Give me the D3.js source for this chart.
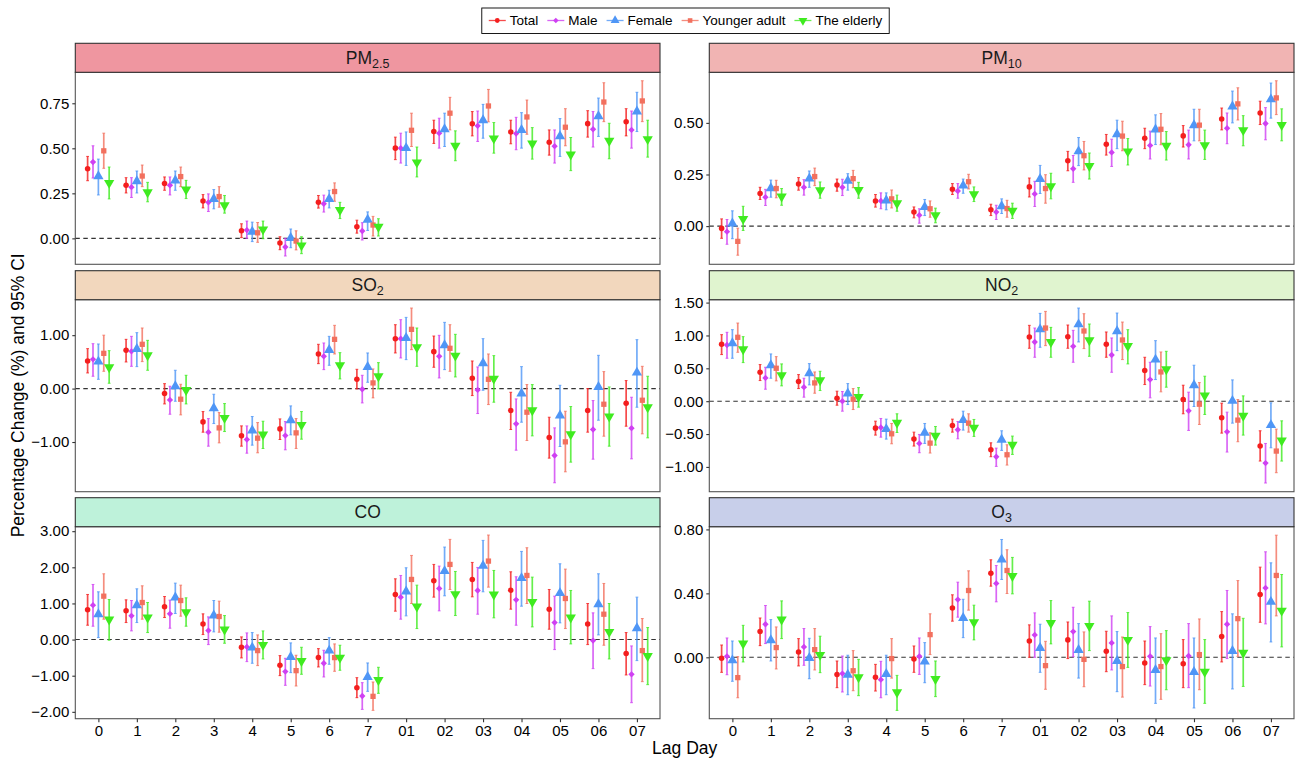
<!DOCTYPE html>
<html><head><meta charset="utf-8">
<script src="https://cdn.jsdelivr.net/npm/d3@7"></script>
<style>
html,body{margin:0;padding:0;background:#fff;}
svg{display:block;font-family:"Liberation Sans",Arial,Helvetica,sans-serif;}
</style></head>
<body>
<svg id="chart" width="1296" height="759"></svg>
<script>
// ---------------- DATA ----------------
const lags = ["0","1","2","3","4","5","6","7","01","02","03","04","05","06","07"];
const seriesNames = ["Total","Male","Female","Younger adult","The elderly"];
const seriesColors = ["#F41E1E","#CF40F2","#4F96F6","#F2705E","#3FEB1F"];

// each entry: [estimate, lower 95% CI, upper 95% CI]
const PM25_Total   = [[0.387,0.32,0.455],[0.295,0.252,0.337],[0.304,0.267,0.341],[0.208,0.169,0.243],[0.042,0.004,0.081],[-0.026,-0.063,0.009],[0.2,0.168,0.238],[0.064,0.029,0.101],[0.501,0.437,0.562],[0.593,0.527,0.656],[0.636,0.569,0.704],[0.591,0.525,0.656],[0.534,0.462,0.602],[0.637,0.562,0.709],[0.647,0.569,0.72]];
const PM25_Male    = [[0.424,0.335,0.514],[0.284,0.227,0.337],[0.295,0.241,0.341],[0.2,0.149,0.247],[0.046,0.0,0.096],[-0.048,-0.098,0.0],[0.192,0.146,0.24],[0.041,-0.009,0.087],[0.501,0.418,0.584],[0.584,0.501,0.667],[0.625,0.538,0.707],[0.582,0.492,0.672],[0.512,0.418,0.602],[0.606,0.507,0.704],[0.602,0.501,0.707]];
const PM25_Female  = [[0.345,0.241,0.44],[0.317,0.252,0.374],[0.321,0.267,0.374],[0.219,0.164,0.271],[0.037,-0.018,0.09],[0.002,-0.052,0.052],[0.219,0.169,0.267],[0.103,0.044,0.147],[0.501,0.405,0.591],[0.606,0.51,0.695],[0.656,0.556,0.744],[0.602,0.501,0.698],[0.567,0.455,0.665],[0.678,0.566,0.779],[0.704,0.593,0.811]];
const PM25_Younger = [[0.486,0.389,0.584],[0.346,0.287,0.407],[0.343,0.287,0.396],[0.232,0.173,0.287],[0.031,-0.022,0.088],[-0.015,-0.064,0.042],[0.26,0.206,0.308],[0.074,0.013,0.122],[0.6,0.51,0.695],[0.695,0.602,0.783],[0.735,0.647,0.827],[0.674,0.578,0.768],[0.617,0.514,0.72],[0.757,0.648,0.864],[0.763,0.648,0.875]];
const PM25_Elderly = [[0.308,0.219,0.396],[0.256,0.203,0.311],[0.271,0.221,0.322],[0.184,0.14,0.238],[0.05,-0.002,0.096],[-0.039,-0.085,0.009],[0.157,0.11,0.2],[0.064,0.013,0.109],[0.422,0.341,0.507],[0.514,0.431,0.597],[0.555,0.473,0.643],[0.527,0.44,0.615],[0.466,0.376,0.56],[0.542,0.442,0.639],[0.551,0.451,0.656]];

const PM10_Total   = [[-0.011,-0.059,0.035],[0.158,0.129,0.188],[0.204,0.174,0.235],[0.199,0.169,0.228],[0.122,0.092,0.153],[0.068,0.04,0.093],[0.178,0.153,0.206],[0.079,0.051,0.106],[0.19,0.141,0.233],[0.317,0.268,0.362],[0.397,0.344,0.444],[0.426,0.375,0.474],[0.437,0.383,0.487],[0.519,0.466,0.572],[0.548,0.492,0.605]];
const PM10_Male    = [[-0.027,-0.088,0.032],[0.14,0.1,0.178],[0.188,0.15,0.225],[0.188,0.148,0.227],[0.122,0.084,0.161],[0.053,0.014,0.084],[0.17,0.135,0.206],[0.068,0.032,0.101],[0.156,0.095,0.217],[0.278,0.212,0.342],[0.357,0.289,0.421],[0.391,0.325,0.46],[0.394,0.325,0.465],[0.474,0.399,0.548],[0.497,0.418,0.574]];
const PM10_Female  = [[0.013,-0.061,0.074],[0.183,0.14,0.223],[0.23,0.188,0.267],[0.219,0.174,0.254],[0.124,0.079,0.161],[0.092,0.051,0.129],[0.196,0.159,0.228],[0.096,0.061,0.132],[0.228,0.158,0.294],[0.362,0.293,0.429],[0.445,0.375,0.513],[0.468,0.395,0.539],[0.489,0.413,0.566],[0.579,0.5,0.654],[0.614,0.523,0.693]];
const PM10_Younger = [[-0.074,-0.141,-0.01],[0.182,0.137,0.222],[0.24,0.196,0.281],[0.23,0.186,0.27],[0.132,0.088,0.175],[0.084,0.043,0.122],[0.215,0.18,0.251],[0.085,0.043,0.125],[0.182,0.111,0.249],[0.341,0.272,0.41],[0.436,0.365,0.508],[0.469,0.394,0.545],[0.489,0.413,0.566],[0.592,0.514,0.67],[0.621,0.54,0.704]];
const PM10_Elderly = [[0.035,-0.021,0.096],[0.143,0.101,0.182],[0.174,0.135,0.214],[0.175,0.135,0.212],[0.111,0.072,0.15],[0.053,0.016,0.087],[0.154,0.119,0.19],[0.074,0.037,0.111],[0.193,0.132,0.256],[0.291,0.228,0.354],[0.362,0.296,0.424],[0.389,0.32,0.458],[0.392,0.323,0.465],[0.465,0.389,0.535],[0.49,0.413,0.568]];

const SO2_Total   = [[0.517,0.293,0.748],[0.717,0.498,0.922],[-0.093,-0.287,0.093],[-0.623,-0.816,-0.43],[-0.885,-1.078,-0.698],[-0.754,-0.953,-0.567],[0.648,0.467,0.829],[0.174,-0.006,0.361],[0.935,0.667,1.196],[0.692,0.399,0.984],[0.193,-0.131,0.517],[-0.411,-0.766,-0.069],[-0.916,-1.302,-0.536],[-0.411,-0.816,0.0],[-0.274,-0.704,0.15]];
const SO2_Male    = [[0.548,0.231,0.841],[0.698,0.417,0.978],[-0.212,-0.48,0.044],[-0.816,-1.078,-0.561],[-0.953,-1.209,-0.698],[-0.879,-1.146,-0.617],[0.604,0.355,0.854],[-0.012,-0.268,0.249],[0.935,0.573,1.29],[0.604,0.199,0.997],[-0.025,-0.467,0.405],[-0.66,-1.153,-0.193],[-1.252,-1.763,-0.735],[-0.766,-1.321,-0.224],[-0.741,-1.315,-0.162]];
const SO2_Female  = [[0.505,0.174,0.835],[0.741,0.411,1.047],[0.044,-0.237,0.343],[-0.368,-0.654,-0.106],[-0.785,-1.059,-0.523],[-0.592,-0.866,-0.324],[0.723,0.436,0.978],[0.405,0.118,0.667],[0.947,0.542,1.333],[0.81,0.355,1.24],[0.474,-0.031,0.935],[-0.093,-0.629,0.411],[-0.505,-1.084,0.062],[0.031,-0.592,0.623],[0.299,-0.349,0.916]];
const SO2_Younger = [[0.66,0.324,1.0],[0.829,0.505,1.134],[-0.199,-0.492,0.081],[-0.735,-1.016,-0.449],[-0.928,-1.202,-0.636],[-0.829,-1.121,-0.561],[0.922,0.648,1.184],[0.106,-0.174,0.368],[1.109,0.729,1.508],[0.754,0.324,1.196],[0.174,-0.299,0.648],[-0.442,-0.972,0.075],[-0.997,-1.558,-0.424],[-0.293,-0.891,0.318],[-0.218,-0.847,0.417]];
const SO2_Elderly = [[0.399,0.1,0.71],[0.623,0.343,0.903],[-0.025,-0.287,0.249],[-0.548,-0.804,-0.28],[-0.86,-1.121,-0.611],[-0.679,-0.947,-0.43],[0.436,0.181,0.673],[0.231,-0.006,0.486],[0.773,0.417,1.134],[0.617,0.218,1.016],[0.187,-0.255,0.617],[-0.405,-0.885,0.075],[-0.854,-1.377,-0.336],[-0.523,-1.078,0.031],[-0.349,-0.922,0.231]];

const NO2_Total   = [[0.865,0.709,1.012],[0.44,0.314,0.557],[0.299,0.192,0.405],[0.046,-0.061,0.152],[-0.41,-0.516,-0.304],[-0.577,-0.683,-0.471],[-0.369,-0.471,-0.273],[-0.739,-0.845,-0.633],[0.977,0.805,1.154],[0.982,0.805,1.159],[0.865,0.668,1.053],[0.466,0.253,0.668],[0.025,-0.192,0.243],[-0.253,-0.486,-0.03],[-0.683,-0.911,-0.45]];
const NO2_Male    = [[0.855,0.653,1.048],[0.354,0.182,0.516],[0.213,0.061,0.349],[0.0,-0.152,0.147],[-0.4,-0.547,-0.263],[-0.643,-0.784,-0.506],[-0.435,-0.572,-0.309],[-0.845,-0.992,-0.714],[0.901,0.668,1.113],[0.835,0.592,1.078],[0.703,0.44,0.962],[0.329,0.051,0.592],[-0.147,-0.445,0.137],[-0.466,-0.774,-0.167],[-0.941,-1.245,-0.643]];
const NO2_Female  = [[0.881,0.653,1.088],[0.547,0.349,0.719],[0.425,0.248,0.572],[0.116,-0.051,0.268],[-0.425,-0.577,-0.273],[-0.481,-0.643,-0.339],[-0.288,-0.44,-0.152],[-0.587,-0.749,-0.45],[1.093,0.82,1.336],[1.169,0.901,1.417],[1.063,0.769,1.341],[0.633,0.329,0.921],[0.243,-0.081,0.547],[0.005,-0.334,0.324],[-0.364,-0.709,-0.025]];
const NO2_Younger = [[0.972,0.744,1.189],[0.501,0.309,0.678],[0.278,0.121,0.445],[0.03,-0.127,0.192],[-0.496,-0.648,-0.339],[-0.638,-0.789,-0.481],[-0.334,-0.471,-0.192],[-0.815,-0.972,-0.663],[1.113,0.845,1.366],[1.068,0.8,1.331],[0.931,0.633,1.204],[0.445,0.142,0.749],[-0.046,-0.354,0.283],[-0.288,-0.617,0.025],[-0.759,-1.088,-0.425]];
const NO2_Elderly = [[0.789,0.587,0.982],[0.395,0.233,0.567],[0.319,0.162,0.455],[0.066,-0.091,0.207],[-0.329,-0.476,-0.192],[-0.526,-0.668,-0.385],[-0.405,-0.536,-0.278],[-0.663,-0.81,-0.531],[0.901,0.668,1.123],[0.926,0.683,1.174],[0.84,0.567,1.088],[0.486,0.213,0.759],[0.086,-0.202,0.38],[-0.223,-0.516,0.081],[-0.597,-0.911,-0.299]];

const CO_Total   = [[0.823,0.397,1.248],[0.795,0.471,1.1],[0.906,0.61,1.192],[0.434,0.139,0.712],[-0.213,-0.508,0.074],[-0.712,-0.998,-0.444],[-0.499,-0.758,-0.25],[-1.331,-1.608,-1.054],[1.248,0.786,1.682],[1.627,1.174,2.08],[1.664,1.183,2.135],[1.368,0.841,1.876],[0.841,0.287,1.386],[0.434,-0.139,0.998],[-0.388,-0.98,0.194]];
const CO_Male    = [[0.952,0.37,1.525],[0.656,0.24,1.081],[0.712,0.314,1.091],[0.25,-0.139,0.628],[-0.203,-0.61,0.185],[-0.887,-1.266,-0.518],[-0.656,-1.035,-0.296],[-1.562,-1.932,-1.192],[1.174,0.564,1.774],[1.414,0.795,2.033],[1.359,0.702,1.996],[1.1,0.397,1.738],[0.471,-0.277,1.201],[-0.028,-0.804,0.739],[-0.961,-1.747,-0.176]];
const CO_Female  = [[0.702,0.055,1.322],[0.952,0.471,1.405],[1.165,0.721,1.562],[0.665,0.213,1.081],[-0.222,-0.656,0.194],[-0.481,-0.915,-0.092],[-0.305,-0.684,0.055],[-1.035,-1.433,-0.647],[1.331,0.656,1.987],[1.895,1.211,2.56],[2.043,1.322,2.745],[1.701,0.924,2.44],[1.285,0.462,2.098],[0.98,0.129,1.821],[0.314,-0.582,1.174]];
const CO_Younger = [[1.201,0.564,1.821],[1.026,0.564,1.488],[1.081,0.647,1.506],[0.638,0.203,1.063],[-0.305,-0.721,0.129],[-0.86,-1.285,-0.434],[-0.499,-0.878,-0.12],[-1.571,-1.959,-1.174],[1.664,0.998,2.329],[2.08,1.386,2.773],[2.172,1.451,2.893],[1.775,0.998,2.542],[1.137,0.305,1.95],[0.702,-0.157,1.553],[-0.305,-1.165,0.582]];
const CO_Elderly = [[0.555,-0.018,1.109],[0.61,0.194,1.026],[0.758,0.37,1.155],[0.277,-0.102,0.665],[-0.148,-0.536,0.24],[-0.592,-0.961,-0.213],[-0.499,-0.85,-0.157],[-1.118,-1.488,-0.767],[0.915,0.305,1.506],[1.257,0.665,1.885],[1.248,0.601,1.913],[1.044,0.351,1.728],[0.61,-0.12,1.359],[0.213,-0.536,0.998],[-0.453,-1.248,0.333]];

const O3_Total   = [[-0.006,-0.094,0.077],[0.161,0.073,0.246],[0.033,-0.054,0.117],[-0.107,-0.19,-0.023],[-0.125,-0.211,-0.044],[-0.01,-0.094,0.071],[0.309,0.226,0.391],[0.526,0.445,0.61],[0.102,0.0,0.203],[0.109,-0.008,0.221],[0.038,-0.09,0.163],[-0.036,-0.171,0.102],[-0.04,-0.19,0.111],[0.13,-0.029,0.286],[0.393,0.219,0.564]];
const O3_Male    = [[0.006,-0.109,0.121],[0.207,0.086,0.324],[0.065,-0.05,0.18],[-0.102,-0.217,0.008],[-0.14,-0.253,-0.025],[0.006,-0.107,0.121],[0.361,0.251,0.47],[0.462,0.347,0.574],[0.14,0.0,0.278],[0.161,0.004,0.313],[0.09,-0.079,0.259],[0.006,-0.18,0.192],[0.008,-0.19,0.211],[0.207,-0.008,0.418],[0.434,0.209,0.66]];
const O3_Female  = [[-0.019,-0.15,0.102],[0.107,-0.023,0.236],[-0.004,-0.134,0.119],[-0.109,-0.234,0.013],[-0.104,-0.234,0.013],[-0.027,-0.159,0.092],[0.246,0.123,0.363],[0.612,0.487,0.737],[0.058,-0.094,0.207],[0.046,-0.13,0.211],[-0.023,-0.215,0.161],[-0.079,-0.288,0.121],[-0.092,-0.317,0.121],[0.04,-0.198,0.272],[0.347,0.096,0.591]];
const O3_Younger = [[-0.127,-0.253,0.004],[0.061,-0.073,0.19],[0.048,-0.079,0.18],[-0.084,-0.209,0.042],[-0.008,-0.13,0.117],[0.142,0.017,0.272],[0.418,0.295,0.541],[0.543,0.399,0.673],[-0.052,-0.2,0.1],[-0.013,-0.184,0.159],[-0.058,-0.249,0.127],[-0.058,-0.263,0.148],[0.017,-0.203,0.24],[0.242,0.006,0.48],[0.512,0.259,0.764]];
const O3_Elderly = [[0.086,-0.029,0.2],[0.236,0.117,0.353],[0.015,-0.096,0.132],[-0.125,-0.24,-0.013],[-0.219,-0.332,-0.113],[-0.136,-0.246,-0.023],[0.219,0.109,0.326],[0.508,0.397,0.625],[0.215,0.084,0.355],[0.196,0.042,0.351],[0.109,-0.063,0.28],[-0.019,-0.203,0.167],[-0.09,-0.288,0.111],[0.029,-0.182,0.244],[0.292,0.065,0.518]];

// panel titles (main text + subscript), y-axis tick values
const panelTitles = [["PM","2.5"],["PM","10"],["SO","2"],["NO","2"],["CO",""],["O","3"]];
const tickValuesPM25 = [0,0.25,0.5,0.75];
const tickValuesPM10 = [0,0.25,0.5];
const tickValuesSO2  = [-1,0,1];
const tickValuesNO2  = [-1,-0.5,0,0.5,1,1.5];
const tickValuesCO   = [-2,-1,0,1,2,3];
const tickValuesO3   = [0,0.4,0.8];

// ---------------- LAYOUT / STYLE ----------------
const stripFills = ["#EF96A0","#F1B4B3","#F2D7BD","#E0F4CF","#BEF2DA","#C8CFEA"];
const yDomains = [[-0.144,0.922],[-0.185,0.745],[-1.93,1.664],[-1.377,1.544],[-2.19,3.124],[-0.384,0.817]];

const panels = [
  {series:[PM25_Total,PM25_Male,PM25_Female,PM25_Younger,PM25_Elderly], ticks:tickValuesPM25},
  {series:[PM10_Total,PM10_Male,PM10_Female,PM10_Younger,PM10_Elderly], ticks:tickValuesPM10},
  {series:[SO2_Total,SO2_Male,SO2_Female,SO2_Younger,SO2_Elderly], ticks:tickValuesSO2},
  {series:[NO2_Total,NO2_Male,NO2_Female,NO2_Younger,NO2_Elderly], ticks:tickValuesNO2},
  {series:[CO_Total,CO_Male,CO_Female,CO_Younger,CO_Elderly], ticks:tickValuesCO},
  {series:[O3_Total,O3_Male,O3_Female,O3_Younger,O3_Elderly], ticks:tickValuesO3}
];

const colX = [[75.3,660],[709.3,1294]];
const stripTops = [43.3,270.7,497.7];
const stripH = 29;
const panelH = 192;

const FONT = '"Liberation Sans",Arial,Helvetica,sans-serif';
const svg = d3.select("#chart");
const fmt = v => { const s = d3.format(".2f")(Math.abs(v)); return v < 0 ? "\u2212" + s : s; };

const symbolTypes = [d3.symbolCircle, d3.symbolSquare, d3.symbolTriangle, d3.symbolSquare, d3.symbolTriangle];
const symbolSizes = [24, 20, 46, 28, 46];
const symbolRot   = [0,45,0,0,180];

panels.forEach((p, pi) => {
  const col = pi % 2, row = Math.floor(pi / 2);
  const [x0, x1] = colX[col];
  const st = stripTops[row];
  const top = st + stripH, bot = top + panelH;
  const g = svg.append("g");

  const x = d3.scalePoint().domain(lags).range([x0, x1]).padding(0.6);
  const dodge = x.step() * 0.14;
  const y = d3.scaleLinear().domain(yDomains[pi]).range([bot, top]);

  g.append("rect").attr("x", x0).attr("y", top).attr("width", x1 - x0).attr("height", panelH)
    .attr("fill", "#fff");

  // zero dashed line
  g.append("line").attr("x1", x0).attr("x2", x1).attr("y1", y(0)).attr("y2", y(0))
    .attr("stroke", "#333").attr("stroke-width", 1.1).attr("stroke-dasharray", "4.5,3.5");

  // error bars
  p.series.forEach((ser, si) => {
    const eg = g.append("g").attr("stroke", seriesColors[si]).attr("stroke-width", 1.7).attr("stroke-opacity", 0.8);
    ser.forEach((d, li) => {
      const cx = x(lags[li]) + (si - 2) * dodge;
      eg.append("line").attr("x1", cx).attr("x2", cx).attr("y1", y(d[1])).attr("y2", y(d[2]));
      eg.append("line").attr("x1", cx - 1.4).attr("x2", cx + 1.4).attr("y1", y(d[1])).attr("y2", y(d[1])).attr("stroke-width", 1);
      eg.append("line").attr("x1", cx - 1.4).attr("x2", cx + 1.4).attr("y1", y(d[2])).attr("y2", y(d[2])).attr("stroke-width", 1);
    });
  });
  // points
  p.series.forEach((ser, si) => {
    const sym = d3.symbol().type(symbolTypes[si]).size(symbolSizes[si]);
    ser.forEach((d, li) => {
      const cx = x(lags[li]) + (si - 2) * dodge;
      g.append("path").attr("d", sym())
        .attr("transform", `translate(${cx},${y(d[0])}) rotate(${symbolRot[si]})`)
        .attr("fill", seriesColors[si]);
    });
  });

  g.append("rect").attr("x", x0).attr("y", top).attr("width", x1 - x0).attr("height", panelH)
    .attr("fill", "none").attr("stroke", "#555").attr("stroke-width", 1.1);

  // strip
  g.append("rect").attr("x", x0).attr("y", st).attr("width", x1 - x0).attr("height", stripH)
    .attr("fill", stripFills[pi]).attr("stroke", "#333").attr("stroke-width", 1.1);
  const t = g.append("text").attr("x", (x0 + x1) / 2).attr("y", st + stripH / 2 + 6)
    .attr("text-anchor", "middle").attr("font-size", 17.5).attr("fill", "#1a1a1a").attr("font-family", FONT);
  t.append("tspan").text(panelTitles[pi][0]);
  if (panelTitles[pi][1]) t.append("tspan").attr("font-size", 12.5).attr("dy", 4).text(panelTitles[pi][1]);

  // y axis
  const ya = g.append("g").attr("transform", `translate(${x0},0)`)
    .call(d3.axisLeft(y).tickValues(p.ticks).tickSize(3).tickPadding(3).tickFormat(fmt));
  ya.select(".domain").remove();
  ya.selectAll(".tick line").attr("stroke", "#333").attr("stroke-width", 1.1);
  ya.selectAll(".tick text").attr("font-size", 15).attr("fill", "#000").attr("font-family", FONT);

  // x axis only in bottom row
  if (row === 2) {
    const xa = g.append("g").attr("transform", `translate(0,${bot})`)
      .call(d3.axisBottom(x).tickSize(3.5).tickPadding(3));
    xa.select(".domain").remove();
    xa.selectAll(".tick line").attr("stroke", "#333").attr("stroke-width", 1.1);
    xa.selectAll(".tick text").attr("font-size", 15).attr("fill", "#000").attr("font-family", FONT);
  }
});

// axis titles
svg.append("text").attr("x", 684.7).attr("y", 754).attr("text-anchor", "middle")
  .attr("font-size", 17.5).attr("font-family", FONT).attr("fill", "#000").text("Lag Day");
svg.append("text").attr("transform", "translate(24,395.3) rotate(-90)").attr("text-anchor", "middle")
  .attr("font-size", 17.5).attr("font-family", FONT).attr("fill", "#000").text("Percentage Change (%) and 95% CI");

// legend
const lg = svg.append("g");
let cursor = 0;
seriesNames.forEach((name, si) => {
  const it = lg.append("g");
  it.append("line").attr("x1", 0).attr("x2", 17).attr("y1", 0).attr("y2", 0)
    .attr("stroke", seriesColors[si]).attr("stroke-width", 1.3).attr("stroke-opacity", 0.8);
  it.append("path").attr("d", d3.symbol().type(symbolTypes[si]).size(symbolSizes[si] * 0.75)())
    .attr("transform", `translate(8.5,0) rotate(${symbolRot[si]})`).attr("fill", seriesColors[si]);
  const tx = it.append("text").attr("x", 21).attr("y", 4.7).attr("font-size", 13.5)
    .attr("font-family", FONT).attr("fill", "#000").text(name);
  const w = 21 + tx.node().getComputedTextLength();
  it.attr("transform", `translate(${cursor},20.5)`);
  cursor += w + 9;
});
const totalW = cursor - 9;
const lx = 685.5 - totalW / 2;
lg.attr("transform", `translate(${lx},0)`);
lg.insert("rect", ":first-child").attr("x", -7).attr("y", 8).attr("width", totalW + 14).attr("height", 25.5)
  .attr("fill", "#fff").attr("stroke", "#000").attr("stroke-width", 0.9);
</script>
</body></html>
